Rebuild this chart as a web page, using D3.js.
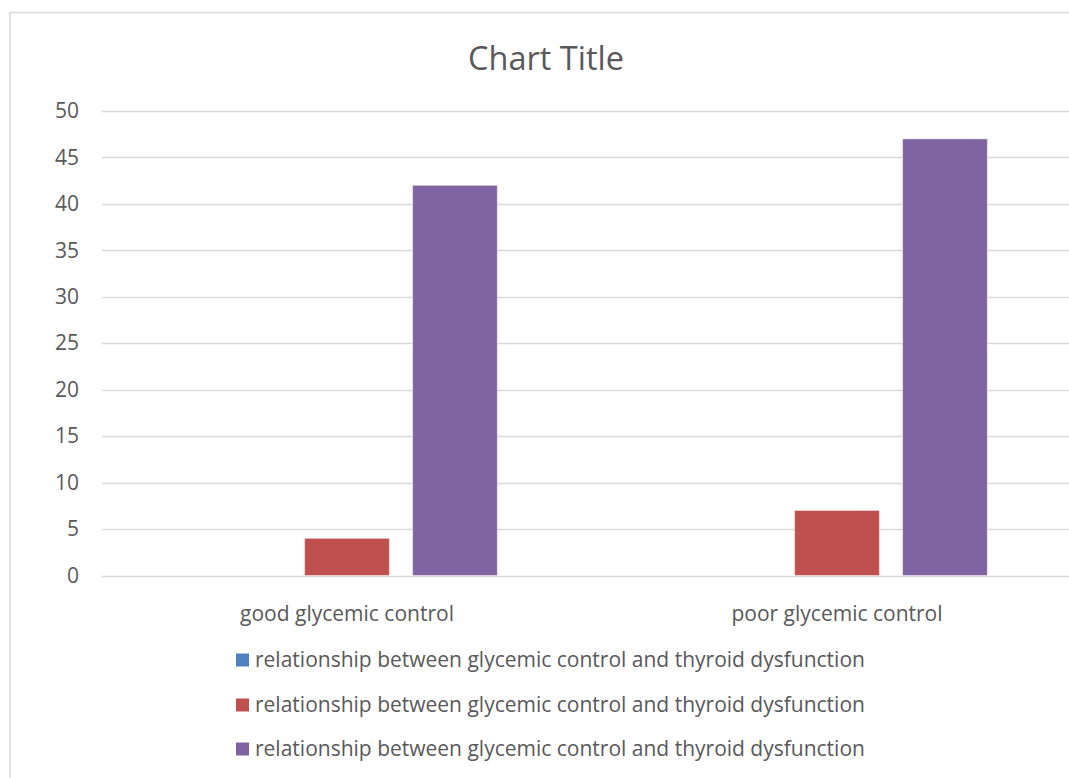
<!DOCTYPE html>
<html>
<head>
<meta charset="utf-8">
<script src="https://cdn.jsdelivr.net/npm/d3@7/dist/d3.min.js"></script>
<style>
  html, body { margin: 0; padding: 0; background: #fff; overflow: hidden; }
  svg { display: block; font-family: "Open Sans", "Noto Sans", sans-serif; }
</style>
</head>
<body>
<svg id="chart" width="1069" height="778"></svg>
<script>
// Chart data
const categories = ["good glycemic control", "poor glycemic control"];
const seriesNames = [
  "relationship between glycemic control and thyroid dysfunction",
  "relationship between glycemic control and thyroid dysfunction",
  "relationship between glycemic control and thyroid dysfunction"
];
const series1 = [0, 0];
const series2 = [4, 7];
const series3 = [42, 47];
const yTicks = [0, 5, 10, 15, 20, 25, 30, 35, 40, 45, 50];
const chartTitle = "Chart Title";

const colors = ["#4F81BD", "#C0504D", "#8064A2"];
const allSeries = [series1, series2, series3];

const svg = d3.select("#chart");

// Outer chart border (runs off the right and bottom edges)
svg.append("rect")
  .attr("x", 10).attr("y", 12.5)
  .attr("width", 1100).attr("height", 800)
  .attr("fill", "#fff")
  .attr("stroke", "#D9D9D9")
  .attr("stroke-width", 1.5);

const plot = { left: 102, right: 1082, top: 111, bottom: 575.5 };

const x0 = d3.scaleBand().domain(categories).range([plot.left, plot.right]).padding(0);
const x1 = d3.scaleBand().domain(d3.range(3))
  .range([0, x0.bandwidth()]).paddingInner(0.215).paddingOuter(0.877);
const y = d3.scaleLinear().domain([0, 50]).range([plot.bottom, plot.top]);

// Title
svg.append("text")
  .attr("x", 546).attr("y", 57)
  .attr("text-anchor", "middle").attr("dominant-baseline", "central")
  .attr("fill", "#595959").attr("font-size", 32.5)
  .text(chartTitle);

// Gridlines
svg.append("g").selectAll("line").data(yTicks).join("line")
  .attr("x1", plot.left).attr("x2", plot.right)
  .attr("y1", d => Math.round(y(d)) + 0.5).attr("y2", d => Math.round(y(d)) + 0.5)
  .attr("stroke", "#D9D9D9").attr("stroke-width", 1.5);

// Y axis labels
const yAxis = d3.axisLeft(y).tickValues(yTicks).tickSize(0).tickPadding(0);
const yg = svg.append("g").attr("transform", `translate(79,0)`).call(yAxis);
yg.select(".domain").remove();
yg.selectAll("text")
  .attr("fill", "#595959").attr("font-size", 21)
  .attr("font-family", "\"Open Sans\", sans-serif");

// Bars
const groups = svg.append("g").selectAll("g").data(categories).join("g")
  .attr("transform", d => `translate(${x0(d)},0)`);
groups.selectAll("rect")
  .data((c, ci) => allSeries.map((s, si) => ({ si, v: s[ci] })))
  .join("rect")
  .attr("x", d => x1(d.si))
  .attr("width", x1.bandwidth())
  .attr("y", d => y(d.v))
  .attr("height", d => y(0) - y(d.v))
  .attr("fill", d => colors[d.si])
  .attr("stroke", d => d.v > 0 ? "rgba(255,255,255,0.45)" : "none")
  .attr("stroke-width", 1);

// Category axis labels
const xAxis = d3.axisBottom(x0).tickSize(0).tickPadding(0);
const xg = svg.append("g").attr("transform", `translate(0,614)`).call(xAxis);
xg.select(".domain").remove();
xg.selectAll("text")
  .attr("fill", "#595959").attr("font-size", 21)
  .attr("dy", "0.32em")
  .attr("font-family", "\"Open Sans\", sans-serif");

// Legend
const legendRows = [660, 705, 749];
const legend = svg.append("g").selectAll("g").data(seriesNames).join("g")
  .attr("transform", (d, i) => `translate(236,${legendRows[i]})`);
legend.append("rect")
  .attr("x", 0).attr("y", -6.5).attr("width", 13).attr("height", 13)
  .attr("fill", (d, i) => colors[i]);
legend.append("text")
  .attr("x", 19).attr("y", 0).attr("dy", "0.35em")
  .attr("fill", "#595959").attr("font-size", 21)
  .text(d => d);
</script>
</body>
</html>
